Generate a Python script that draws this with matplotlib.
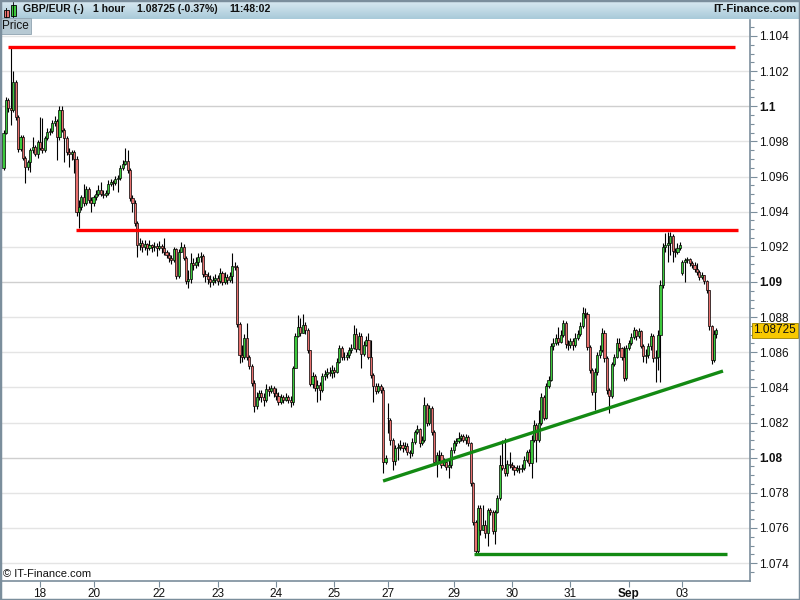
import numpy as np
import matplotlib
matplotlib.use("Agg")
import matplotlib.pyplot as plt
from matplotlib.patches import Rectangle
from matplotlib.transforms import blended_transform_factory

plt.rcParams['font.family'] = ['Liberation Sans', 'DejaVu Sans']

# ---------------- data (GBP/EUR, 1 hour candles) ----------------
closes = [
 1.09848,1.10036,1.09990,1.09979,1.10138,1.09939,1.09757,1.09825,1.09706,1.09654,
 1.09683,1.09751,1.09768,1.09728,1.09797,1.09762,1.09751,1.09819,1.09854,1.09859,
 1.09905,1.09916,1.09825,1.09979,1.09865,1.09819,1.09740,1.09728,1.09740,1.09700,
 1.09398,1.09427,1.09484,1.09449,1.09529,1.09466,1.09449,1.09484,1.09501,1.09523,
 1.09501,1.09495,1.09506,1.09558,1.09569,1.09563,1.09586,1.09592,1.09649,1.09671,
 1.09688,1.09637,1.09478,1.09449,1.09335,1.09210,1.09222,1.09199,1.09216,1.09193,
 1.09210,1.09199,1.09205,1.09193,1.09205,1.09193,1.09170,1.09153,1.09136,1.09125,
 1.09187,1.09034,1.09170,1.09199,1.09136,1.09005,1.09017,1.09108,1.09096,1.09113,
 1.09142,1.09148,1.09045,1.09034,1.09017,1.09000,1.09011,1.09022,1.09005,1.09051,
 1.09000,1.09028,1.09011,1.09034,1.09091,1.09085,1.08760,1.08584,1.08573,1.08681,
 1.08573,1.08521,1.08425,1.08294,1.08345,1.08368,1.08345,1.08328,1.08390,1.08379,
 1.08396,1.08368,1.08351,1.08316,1.08345,1.08328,1.08345,1.08328,1.08316,1.08510,
 1.08692,1.08743,1.08709,1.08755,1.08726,1.08612,1.08419,1.08464,1.08396,1.08413,
 1.08385,1.08464,1.08476,1.08487,1.08482,1.08499,1.08487,1.08544,1.08624,1.08573,
 1.08573,1.08584,1.08612,1.08624,1.08704,1.08618,1.08692,1.08590,1.08641,1.08669,
 1.08573,1.08470,1.08408,1.08379,1.08408,1.08385,1.07975,1.07998,1.08225,1.08100,
 1.07981,1.08055,1.08060,1.08072,1.08055,1.08066,1.08032,1.08026,1.08089,1.08146,
 1.08163,1.08083,1.08100,1.08299,1.08197,1.08282,1.08146,1.07975,1.08015,1.08015,
 1.07958,1.07975,1.07946,1.07958,1.08043,1.08083,1.08094,1.08112,1.08123,1.08100,
 1.08117,1.08083,1.07855,1.07633,1.07468,1.07713,1.07588,1.07616,1.07571,1.07702,
 1.07690,1.07582,1.07690,1.07770,1.07958,1.07941,1.07912,1.07963,1.07958,1.07946,
 1.07929,1.07941,1.07935,1.07941,1.07986,1.08032,1.07969,1.08100,1.08186,1.08100,
 1.08197,1.08345,1.08225,1.08408,1.08442,1.08635,1.08652,1.08681,1.08658,1.08698,
 1.08766,1.08647,1.08641,1.08664,1.08641,1.08681,1.08704,1.08749,1.08823,1.08817,
 1.08630,1.08499,1.08373,1.08487,1.08584,1.08612,1.08709,1.08567,1.08385,1.08351,
 1.08533,1.08573,1.08652,1.08624,1.08573,1.08453,1.08624,1.08652,1.08686,1.08726,
 1.08692,1.08721,1.08635,1.08578,1.08584,1.08635,1.08692,1.08567,1.08573,1.08698,
 1.08982,1.09199,1.09210,1.09222,1.09261,1.09176,1.09170,1.09193,1.09210,1.09113,
 1.09125,1.09130,1.09108,1.09096,1.09074,1.09056,1.09028,1.09039,1.09005,1.08954,
 1.08749,1.08556,1.08704,1.08725]

highs = [
 1.09865,1.10053,1.10047,1.10331,1.10200,1.10150,1.09951,1.09836,1.09836,1.09717,
 1.09694,1.09762,1.09825,1.09780,1.09808,1.09939,1.09933,1.09831,1.09876,1.09876,
 1.09922,1.09945,1.09928,1.10002,1.10002,1.09876,1.09831,1.09762,1.09751,1.09751,
 1.09717,1.09466,1.09495,1.09558,1.09546,1.09540,1.09483,1.09495,1.09523,1.09552,
 1.09569,1.09523,1.09523,1.09580,1.09586,1.09580,1.09603,1.09609,1.09666,1.09694,
 1.09762,1.09751,1.09649,1.09495,1.09466,1.09347,1.09250,1.09239,1.09239,1.09222,
 1.09239,1.09216,1.09227,1.09222,1.09233,1.09216,1.09250,1.09182,1.09170,1.09153,
 1.09199,1.09193,1.09187,1.09227,1.09216,1.09148,1.09068,1.09165,1.09136,1.09142,
 1.09165,1.09170,1.09159,1.09068,1.09057,1.09040,1.09034,1.09045,1.09040,1.09079,
 1.09062,1.09057,1.09045,1.09057,1.09165,1.09113,1.09096,1.08772,1.08641,1.08704,
 1.08766,1.08584,1.08533,1.08442,1.08374,1.08385,1.08385,1.08368,1.08419,1.08408,
 1.08413,1.08408,1.08396,1.08374,1.08362,1.08356,1.08368,1.08356,1.08351,1.08521,
 1.08709,1.08812,1.08795,1.08817,1.08772,1.08738,1.08612,1.08487,1.08476,1.08442,
 1.08430,1.08482,1.08499,1.08510,1.08516,1.08527,1.08516,1.08567,1.08641,1.08635,
 1.08601,1.08601,1.08630,1.08647,1.08755,1.08738,1.08715,1.08709,1.08664,1.08692,
 1.08709,1.08669,1.08482,1.08425,1.08425,1.08419,1.08402,1.08015,1.08311,1.08225,
 1.08112,1.08072,1.08083,1.08100,1.08089,1.08089,1.08083,1.08043,1.08112,1.08157,
 1.08186,1.08169,1.08123,1.08345,1.08311,1.08299,1.08294,1.08157,1.08032,1.08043,
 1.08032,1.07998,1.07986,1.07986,1.08060,1.08100,1.08112,1.08146,1.08135,1.08135,
 1.08135,1.08129,1.08089,1.07861,1.07645,1.07730,1.07730,1.07730,1.07645,1.07713,
 1.07713,1.07701,1.07701,1.07787,1.08015,1.08100,1.08112,1.07986,1.08032,1.07975,
 1.07958,1.07958,1.07958,1.07964,1.08009,1.08043,1.08049,1.08129,1.08214,1.08197,
 1.08271,1.08368,1.08356,1.08425,1.08465,1.08652,1.08681,1.08704,1.08743,1.08726,
 1.08783,1.08778,1.08669,1.08681,1.08681,1.08709,1.08726,1.08772,1.08857,1.08851,
 1.08829,1.08641,1.08510,1.08510,1.08601,1.08641,1.08738,1.08726,1.08578,1.08396,
 1.08544,1.08590,1.08681,1.08681,1.08630,1.08635,1.08641,1.08669,1.08709,1.08743,
 1.08732,1.08738,1.08726,1.08647,1.08618,1.08652,1.08709,1.08704,1.08612,1.08726,
 1.09011,1.09222,1.09278,1.09284,1.09284,1.09273,1.09193,1.09222,1.09227,1.09125,
 1.09136,1.09142,1.09136,1.09119,1.09113,1.09108,1.09068,1.09057,1.09040,1.09011,
 1.08954,1.08755,1.08726,1.08738]

lows = [
 1.09637,1.09842,1.09967,1.09893,1.09967,1.09922,1.09740,1.09745,1.09694,1.09563,
 1.09637,1.09626,1.09734,1.09717,1.09706,1.09751,1.09734,1.09740,1.09808,1.09836,
 1.09848,1.09888,1.09694,1.09808,1.09854,1.09683,1.09723,1.09654,1.09694,1.09620,
 1.09375,1.09307,1.09409,1.09432,1.09438,1.09449,1.09398,1.09432,1.09466,1.09489,
 1.09489,1.09478,1.09483,1.09495,1.09546,1.09523,1.09552,1.09512,1.09580,1.09637,
 1.09666,1.09620,1.09461,1.09398,1.09318,1.09142,1.09182,1.09170,1.09182,1.09153,
 1.09182,1.09170,1.09176,1.09148,1.09182,1.09165,1.09153,1.09136,1.09113,1.09102,
 1.09113,1.09017,1.09022,1.09182,1.09125,1.08988,1.08966,1.08994,1.09068,1.09079,
 1.09091,1.09113,1.09028,1.09000,1.08988,1.08971,1.08983,1.08994,1.08983,1.08994,
 1.08983,1.08988,1.08988,1.09000,1.08994,1.09068,1.08743,1.08538,1.08544,1.08561,
 1.08555,1.08504,1.08408,1.08260,1.08277,1.08328,1.08317,1.08294,1.08317,1.08351,
 1.08368,1.08345,1.08328,1.08299,1.08305,1.08311,1.08322,1.08311,1.08288,1.08299,
 1.08510,1.08686,1.08692,1.08709,1.08704,1.08595,1.08408,1.08396,1.08379,1.08317,
 1.08328,1.08374,1.08442,1.08453,1.08465,1.08453,1.08459,1.08482,1.08538,1.08555,
 1.08555,1.08555,1.08567,1.08595,1.08618,1.08601,1.08612,1.08510,1.08578,1.08635,
 1.08561,1.08453,1.08317,1.08362,1.08368,1.08368,1.07912,1.07964,1.08140,1.08072,
 1.07929,1.07958,1.07986,1.08043,1.08032,1.08043,1.08015,1.07998,1.08009,1.08077,
 1.08135,1.08060,1.08072,1.08089,1.08180,1.08186,1.08129,1.07958,1.07890,1.07975,
 1.07941,1.07952,1.07929,1.07884,1.07941,1.08026,1.08066,1.08083,1.08094,1.08089,
 1.08077,1.08066,1.07838,1.07616,1.07451,1.07457,1.07559,1.07588,1.07542,1.07497,
 1.07673,1.07565,1.07508,1.07684,1.07758,1.07929,1.07895,1.07895,1.07941,1.07929,
 1.07901,1.07918,1.07912,1.07918,1.07929,1.07975,1.07952,1.07884,1.08089,1.07975,
 1.08089,1.08186,1.08214,1.08220,1.08396,1.08436,1.08612,1.08641,1.08641,1.08652,
 1.08686,1.08624,1.08612,1.08624,1.08612,1.08630,1.08669,1.08692,1.08738,1.08795,
 1.08612,1.08482,1.08356,1.08271,1.08470,1.08567,1.08601,1.08544,1.08362,1.08254,
 1.08339,1.08521,1.08567,1.08607,1.08555,1.08436,1.08442,1.08612,1.08641,1.08675,
 1.08669,1.08681,1.08624,1.08544,1.08538,1.08567,1.08612,1.08544,1.08430,1.08499,
 1.08430,1.08966,1.09170,1.09113,1.09153,1.09113,1.09142,1.09159,1.09182,1.09040,
 1.09000,1.09108,1.09091,1.09079,1.09057,1.09040,1.09011,1.09017,1.08988,1.08937,
 1.08726,1.08532,1.08544,1.08681]

# opens equal the previous close except where the market gapped
open_overrides = {0: 1.09649, 158: 1.08225, 159: 1.08214, 279: 1.09051}

# date ticks (candle index of first hour of the day)
tick_pos = [15, 37, 64, 88, 112, 136, 158, 185, 209, 233, 257, 279]
tick_labels = ['18', '20', '22', '23', '24', '25', '27', '29', '30', '31', 'Sep', '03']

# drawn support / resistance lines
resistance_top = ([2, 300.6], [1.10337, 1.10337])
resistance_mid = ([29.8, 302], [1.09296, 1.09296])
trend_support = ([156, 295.7], [1.07867, 1.08493])
support_bottom = ([193.4, 297.4], [1.07451, 1.07451])

last_price = 1.08725
header_parts = [(23, "GBP/EUR (-)"), (93, "1 hour"), (137, "1.08725 (-0.37%)"), (229, "11:48:02")]

# ---------------- figure ----------------
W, H = 800, 600
fig = plt.figure(figsize=(W / 100, H / 100), dpi=100)
fig.patch.set_facecolor('white')

edge = '#7b8e9c'

# header gradient bar
hax = fig.add_axes([0, 1 - 19 / H, 1, 19 / H])
grad = np.linspace(0, 1, 50).reshape(-1, 1)
c_top = np.array([0.86, 0.92, 0.95])
c_bot = np.array([0.66, 0.79, 0.85])
img = c_top[None, None, :] * (1 - grad[:, :, None]) + c_bot[None, None, :] * grad[:, :, None]
hax.imshow(img, aspect='auto', extent=[0, W, 0, 19])
hax.set_xlim(0, W)
hax.set_ylim(0, 19)
hax.axis('off')
# small candle icon
hax.plot([6, 6], [1, 11], color='black', lw=0.6)
hax.add_patch(Rectangle((3.5, 2.5), 5, 6.5, fc='#e8706e', ec='black', lw=0.6))
hax.plot([13, 13], [2, 17], color='black', lw=0.6)
hax.add_patch(Rectangle((10.5, 3.5), 5, 11, fc='#3cc83c', ec='black', lw=0.6))
for px, s in header_parts:
    hax.text(px, 9.5, s, fontsize=7.6, fontweight='bold', va='center', ha='left', color='#111111')
hax.text(796, 9.5, 'IT-Finance.com', fontsize=8.2, fontweight='bold', va='center', ha='right', color='#111111')

ax = fig.add_axes([2 / W, 19 / H, 748 / W, 561 / H])
N = len(closes)
x = np.arange(N)
C = np.array(closes)
O = np.concatenate([[C[0]], C[:-1]])
for k, v in open_overrides.items():
    O[k] = v
Hh = np.maximum(np.array(highs), np.maximum(O, C))
Ll = np.minimum(np.array(lows), np.minimum(O, C))

ax.set_xlim(-0.62, 306.8)
ax.set_ylim(1.07298, 1.10491)

# grid
yt = np.round(np.arange(1.074, 1.1041, 0.002), 3)
for v in yt:
    bold = abs(v * 100 - round(v * 100)) < 1e-6
    ax.axhline(v, color='#cfcfcf' if bold else '#e4e4e4', lw=1.0, zorder=0)

up = C >= O
colors = np.where(up, '#3cc83c', '#e8706e')
ax.vlines(x, Ll, Hh, color='black', lw=0.8, zorder=2)
ax.bar(x, np.maximum(np.abs(C - O), 0.000012), bottom=np.minimum(O, C), width=0.86,
       color=colors, edgecolor='black', linewidth=0.5, zorder=3)

# drawn lines
ax.plot(*resistance_top, color='#ff0000', lw=2.4, zorder=4, solid_capstyle='butt')
ax.plot(*resistance_mid, color='#ff0000', lw=2.4, zorder=4, solid_capstyle='butt')
ax.plot(*trend_support, color='#138a13', lw=2.4, zorder=4, solid_capstyle='butt')
ax.plot(*support_bottom, color='#138a13', lw=2.4, zorder=4, solid_capstyle='butt')

# axes styling
for s in ['top', 'left']:
    ax.spines[s].set_visible(False)
for s in ['right', 'bottom']:
    ax.spines[s].set_color(edge)
    ax.spines[s].set_linewidth(1.2)

ax.yaxis.tick_right()
ax.set_yticks(yt)
labels = []
for v in yt:
    s = ('%.3f' % v).rstrip('0').rstrip('.')
    labels.append(s)
ax.set_yticklabels(labels)
for t, v in zip(ax.get_yticklabels(), yt):
    if abs(v * 100 - round(v * 100)) < 1e-6:
        t.set_fontweight('bold')
ax.set_yticks(np.arange(1.0735, 1.1046, 0.0005), minor=True)
ax.tick_params(axis='y', which='major', direction='out', length=5, width=0.8,
               color=edge, labelsize=8.5, pad=1.5, labelcolor='#111111')
ax.tick_params(axis='y', which='minor', direction='out', length=3, width=0.8, color=edge)

ax.set_xticks(tick_pos)
ax.set_xticklabels(tick_labels)
for t, lab in zip(ax.get_xticklabels(), tick_labels):
    if lab == 'Sep':
        t.set_fontweight('bold')
ax.tick_params(axis='x', direction='out', length=4, width=0.8, color=edge,
               labelsize=8.5, pad=1, labelcolor='#111111')

# last price tag
trans = blended_transform_factory(ax.transAxes, ax.transData)
ax.text(1.0045, last_price, '%.5f' % last_price, transform=trans, va='center', ha='left',
        fontsize=8.5, color='#111111', clip_on=False,
        bbox=dict(boxstyle='square,pad=0.12', fc='#f8c800', ec='#9a8000', lw=0.6))

# "Price" tag and copyright
ax.text(0.0, 1.0, 'Price', transform=ax.transAxes, va='top', ha='left', fontsize=8.5,
        color='#111111', bbox=dict(boxstyle='square,pad=0.18', fc='#b7c9d3', ec='#8fa3b0', lw=0.6),
        zorder=6)
ax.text(0.002, 0.004, '\u00a9 IT-Finance.com', transform=ax.transAxes, va='bottom', ha='left',
        fontsize=8, color='#111111', zorder=6)

# outer border
fig.add_artist(Rectangle((0, 0), 1, 1, transform=fig.transFigure, fill=False,
                         ec=edge, lw=2.5))

fig.savefig('out.png', dpi=100)
